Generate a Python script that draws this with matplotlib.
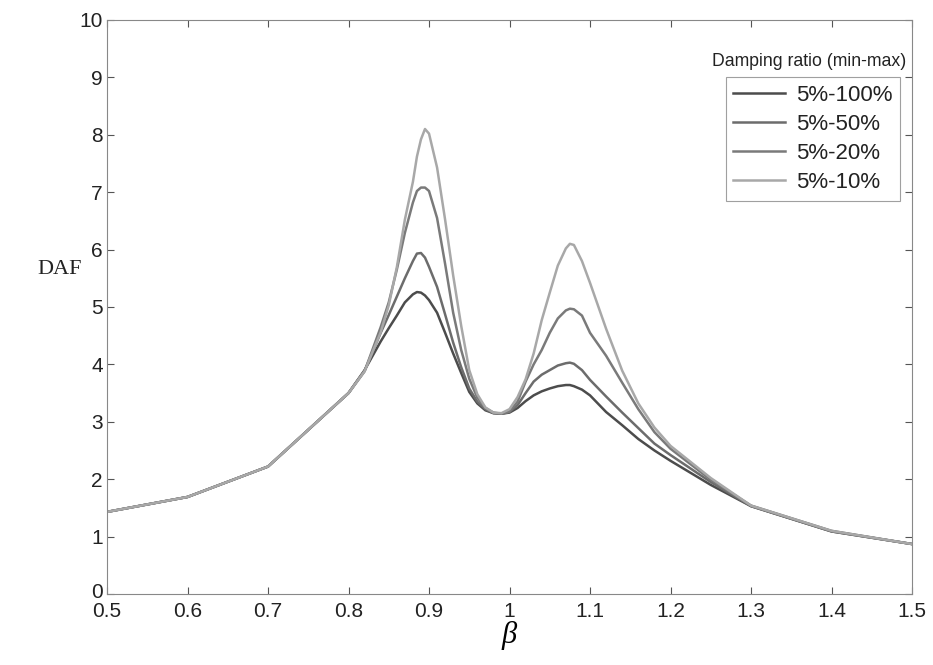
import matplotlib
matplotlib.use("Agg")
import matplotlib.pyplot as plt
import matplotlib.transforms as mtransforms

# frequency ratio beta
beta = [0.5, 0.6, 0.7, 0.8, 0.82, 0.84, 0.85, 0.86, 0.87, 0.88, 0.885, 0.89, 0.895,
        0.90, 0.91, 0.92, 0.93, 0.94, 0.95, 0.96, 0.97, 0.98, 0.99, 1.0, 1.01,
        1.02, 1.03, 1.04, 1.05, 1.06, 1.07, 1.075, 1.08, 1.09, 1.10, 1.12, 1.14,
        1.16, 1.18, 1.2, 1.25, 1.3, 1.4, 1.5]

# DAF for each damping ratio range
daf_100 = [1.43, 1.69, 2.22, 3.50, 3.90, 4.40, 4.63, 4.85, 5.08, 5.22, 5.26, 5.25, 5.20,
           5.12, 4.90, 4.55, 4.19, 3.85, 3.52, 3.32, 3.20, 3.15, 3.14, 3.16, 3.24,
           3.36, 3.46, 3.53, 3.58, 3.62, 3.64, 3.64, 3.62, 3.56, 3.46, 3.17, 2.94,
           2.70, 2.50, 2.32, 1.90, 1.53, 1.09, 0.87]
daf_50 = [1.43, 1.69, 2.22, 3.50, 3.89, 4.55, 4.86, 5.18, 5.50, 5.80, 5.93, 5.94, 5.86,
          5.70, 5.35, 4.87, 4.38, 3.95, 3.58, 3.35, 3.22, 3.15, 3.14, 3.17, 3.29,
          3.50, 3.70, 3.82, 3.90, 3.98, 4.02, 4.03, 4.01, 3.90, 3.73, 3.44, 3.16,
          2.89, 2.62, 2.42, 1.95, 1.53, 1.09, 0.87]
daf_20 = [1.43, 1.69, 2.22, 3.50, 3.88, 4.65, 5.08, 5.65, 6.29, 6.82, 7.02, 7.08, 7.08,
          7.02, 6.55, 5.75, 4.90, 4.25, 3.75, 3.42, 3.24, 3.16, 3.14, 3.18, 3.35,
          3.70, 4.00, 4.25, 4.55, 4.80, 4.94, 4.97, 4.96, 4.85, 4.55, 4.15, 3.68,
          3.22, 2.82, 2.53, 1.99, 1.54, 1.10, 0.87]
daf_10 = [1.43, 1.69, 2.22, 3.50, 3.88, 4.56, 5.03, 5.69, 6.52, 7.18, 7.62, 7.92, 8.10,
          8.02, 7.43, 6.52, 5.55, 4.67, 3.90, 3.48, 3.25, 3.16, 3.15, 3.22, 3.43,
          3.74, 4.19, 4.77, 5.25, 5.72, 6.02, 6.10, 6.08, 5.80, 5.42, 4.62, 3.89,
          3.32, 2.90, 2.58, 2.02, 1.54, 1.10, 0.87]

labels = ["5%-100%", "5%-50%", "5%-20%", "5%-10%"]
colors = ["#4c4c4c", "#6c6c6c", "#7a7a7a", "#a8a8a8"]

plt.rcParams["font.family"] = ["Liberation Sans", "DejaVu Sans"]

fig = plt.figure(figsize=(9.33, 6.65), dpi=100)
ax = fig.add_axes([0.1147, 0.1068, 0.8628, 0.8632])

for y, lab, c in zip([daf_100, daf_50, daf_20, daf_10], labels, colors):
    ax.plot(beta, y, color=c, lw=1.8, label=lab)

ax.set_xlim(0.5, 1.5)
ax.set_ylim(0, 10)
ax.set_xticks([0.5, 0.6, 0.7, 0.8, 0.9, 1, 1.1, 1.2, 1.3, 1.4, 1.5])
ax.set_xticklabels(["0.5", "0.6", "0.7", "0.8", "0.9", "1", "1.1", "1.2", "1.3", "1.4", "1.5"])
ax.set_yticks(range(11))
ax.tick_params(direction="in", top=True, right=True, length=5, width=0.8,
               labelsize=15, color="#555555", labelcolor="#222222", pad=3)
ax.tick_params(axis="x", pad=6)
for s in ax.spines.values():
    s.set_color("#888888")
    s.set_linewidth(0.8)

# nudge the "0" y label up a little so it clears "0.5"
ylab0 = ax.get_yticklabels()[0]
ylab0.set_transform(ylab0.get_transform() +
                    mtransforms.ScaledTranslation(0, 3 / 100, fig.dpi_scale_trans))

ax.set_xlabel("β", family="Liberation Serif", style="italic", fontsize=22, labelpad=0)
fig.text(60 / 933, 1 - 270 / 665, "DAF", family="Liberation Serif", fontsize=16,
         ha="center", va="center", color="#222222")

leg = ax.legend(loc="upper right", bbox_to_anchor=(0.985, 0.9), fontsize=16,
                frameon=True, fancybox=False, handlelength=2.3, handletextpad=0.5,
                labelspacing=0.36, borderpad=0.35, borderaxespad=0)
leg.get_frame().set_edgecolor("#888888")
leg.get_frame().set_linewidth(0.8)
for t in leg.get_texts():
    t.set_color("#222222")
ax.text(0.993, 0.928, "Damping ratio (min-max)", transform=ax.transAxes,
        ha="right", va="center", fontsize=12.7, color="#222222")

fig.savefig("out.png", dpi=100)
